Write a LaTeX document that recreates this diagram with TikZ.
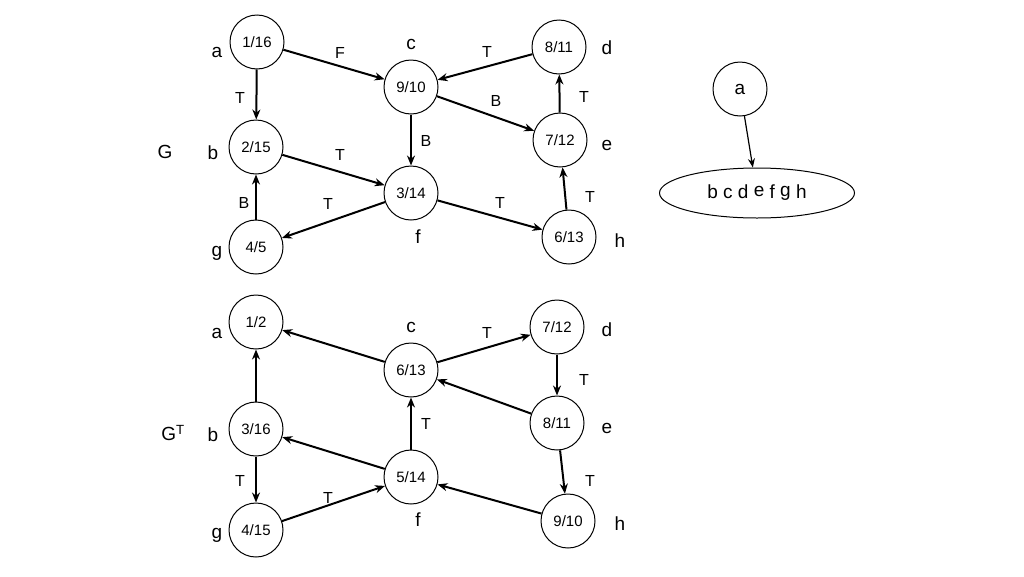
\documentclass[tikz,border=0pt]{standalone}
\usepackage{fontspec}
\setmainfont{Liberation Sans}
\usetikzlibrary{arrows.meta,shapes.geometric}
\begin{document}
\begin{tikzpicture}[x=1pt,y=-1pt,
  vtx/.style={draw,circle,minimum size=54pt,inner sep=0pt,font=\fontsize{15}{15}\selectfont,line width=1pt},
  lbl/.style={font=\fontsize{19}{19}\selectfont},
  el/.style={font=\fontsize{16}{16}\selectfont},
  arr/.style={-{Stealth[length=10pt,width=8pt]},line width=2pt}]
\useasboundingbox (0,0) rectangle (1024,576);
% top graph
\node[vtx] (a) at (257,42) {1/16};
\node[vtx] (c) at (411,87) {9/10};
\node[vtx] (d) at (559,47) {8/11};
\node[vtx] (b) at (256,147) {2/15};
\node[vtx] (e) at (560,140) {7/12};
\node[vtx] (f) at (411,193) {3/14};
\node[vtx] (g) at (256,247) {4/5};
\node[vtx] (h) at (569,237) {6/13};
\node[lbl] (la) at (217,52) {a};
\node[lbl] (lc) at (411,44) {c};
\node[lbl] (ld) at (607,48) {d};
\node[lbl] (lb) at (213,153) {b};
\node[lbl] (le) at (607,145) {e};
\node[lbl] (lf) at (418,237) {f};
\node[lbl] (lg) at (217,253) {g};
\node[lbl] (lh) at (620,241) {h};
\node[lbl] (G) at (165,152) {G};
\draw[arr] (a) -- (b);
\draw[arr] (a) -- (c);
\draw[arr] (d) -- (c);
\draw[arr] (c) -- (f);
\draw[arr] (c) -- (e);
\draw[arr] (e) -- (d);
\draw[arr] (b) -- (f);
\draw[arr] (f) -- (g);
\draw[arr] (f) -- (h);
\draw[arr] (h) -- (e);
\draw[arr] (g) -- (b);
\node[el] (t1) at (240,98) {T};
\node[el] (t2) at (340,53) {F};
\node[el] (t3) at (487,52) {T};
\node[el] (t4) at (426,141) {B};
\node[el] (t5) at (496,101) {B};
\node[el] (t6) at (584,97) {T};
\node[el] (t7) at (340,155) {T};
\node[el] (t8) at (328,204) {T};
\node[el] (t9) at (500,203) {T};
\node[el] (t10) at (590,197) {T};
\node[el] (t11) at (244,203) {B};
% right tree
\node[vtx] (ra) at (740,89) {\fontsize{19}{19}\selectfont a};
\node[draw,ellipse,line width=1pt,minimum width=195pt,minimum height=50pt,font=\fontsize{19}{19}\selectfont] (re) at (757,193) {b c d \raisebox{2pt}{e} f \raisebox{2pt}{g} h};
\draw[-{Stealth[length=9pt,width=7pt]},line width=1.2pt] (ra) -- (re);
% bottom graph
\node[vtx] (A) at (256,322) {1/2};
\node[vtx] (C) at (411,370) {6/13};
\node[vtx] (D) at (557,327) {7/12};
\node[vtx] (B) at (256,429) {3/16};
\node[vtx] (E) at (557,423) {8/11};
\node[vtx] (F) at (411,477) {5/14};
\node[vtx] (Gg) at (256,530) {4/15};
\node[vtx] (H) at (568,521) {9/10};
\node[lbl] (lA) at (217,333) {a};
\node[lbl] (lC) at (411,327) {c};
\node[lbl] (lD) at (607,330) {d};
\node[lbl] (lB) at (213,435) {b};
\node[lbl] (lE) at (607,428) {e};
\node[lbl] (lF) at (418,520) {f};
\node[lbl] (lG) at (217,535) {g};
\node[lbl] (lH) at (620,524) {h};
\node[lbl] (GT) at (173,433) {G\textsuperscript{T}};
\draw[arr] (C) -- (A);
\draw[arr] (C) -- (D);
\draw[arr] (D) -- (E);
\draw[arr] (E) -- (C);
\draw[arr] (F) -- (C);
\draw[arr] (B) -- (A);
\draw[arr] (F) -- (B);
\draw[arr] (B) -- (Gg);
\draw[arr] (Gg) -- (F);
\draw[arr] (H) -- (F);
\draw[arr] (E) -- (H);
\node[el] (s1) at (487,333) {T};
\node[el] (s2) at (584,380) {T};
\node[el] (s3) at (426,424) {T};
\node[el] (s4) at (240,481) {T};
\node[el] (s5) at (328,498) {T};
\node[el] (s6) at (590,481) {T};
\end{tikzpicture}
\end{document}
